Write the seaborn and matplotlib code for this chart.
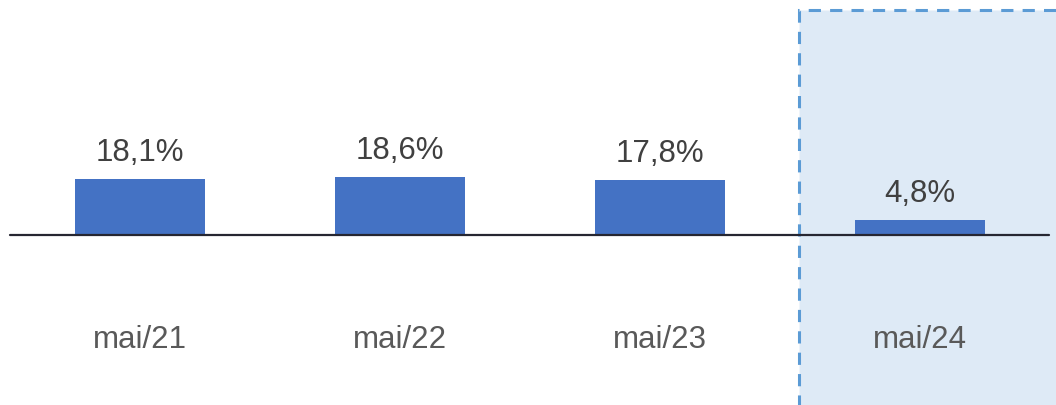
import matplotlib
matplotlib.use('Agg')
import matplotlib.pyplot as plt
import matplotlib.patches as mpatches
import seaborn as sns
import pandas as pd

# données
periodes = ["mai/21", "mai/22", "mai/23", "mai/24"]
valeurs = [18.1, 18.6, 17.8, 4.8]
etiquettes = ["18,1%", "18,6%", "17,8%", "4,8%"]

sns.set_theme(style="white")
plt.rcParams['font.family'] = ['Liberation Sans', 'DejaVu Sans']

df = pd.DataFrame({"periode": periodes, "valeur": valeurs})

fig = plt.figure(figsize=(10.56, 4.06), dpi=100)
ax = fig.add_axes([0, 0, 1, 1])

sns.barplot(data=df, x="periode", y="valeur", color="#4472C4", width=0.5,
            saturation=1, linewidth=0, edgecolor="none", ax=ax, zorder=3)

ax.set_xlim(-0.5385, 3.523)
ax.set_ylim(-55.0, 76.2)
ax.axis("off")

# zone mise en évidence (dernière période)
rect = mpatches.Rectangle((2.535, -80), 3, 152.6, facecolor="#DEEAF6",
                          edgecolor="#5B9BD5", linewidth=2.2,
                          linestyle=(0, (4, 3)), zorder=0)
ax.add_patch(rect)

# ligne de base
ax.axhline(0, xmin=10 / 1056, xmax=1049 / 1056, color="#262631", linewidth=1.6, zorder=4)

for i, (v, lab) in enumerate(zip(valeurs, etiquettes)):
    ax.annotate(lab, (i, v), xytext=(0, 8.5), textcoords="offset points",
                ha="center", va="bottom", fontsize=22.5, color="#404040", zorder=5)
    ax.text(i, -36.3, periodes[i], ha="center", va="baseline",
            fontsize=22.5, color="#595959", zorder=5)

plt.savefig("out.png", dpi=100)
plt.close()
